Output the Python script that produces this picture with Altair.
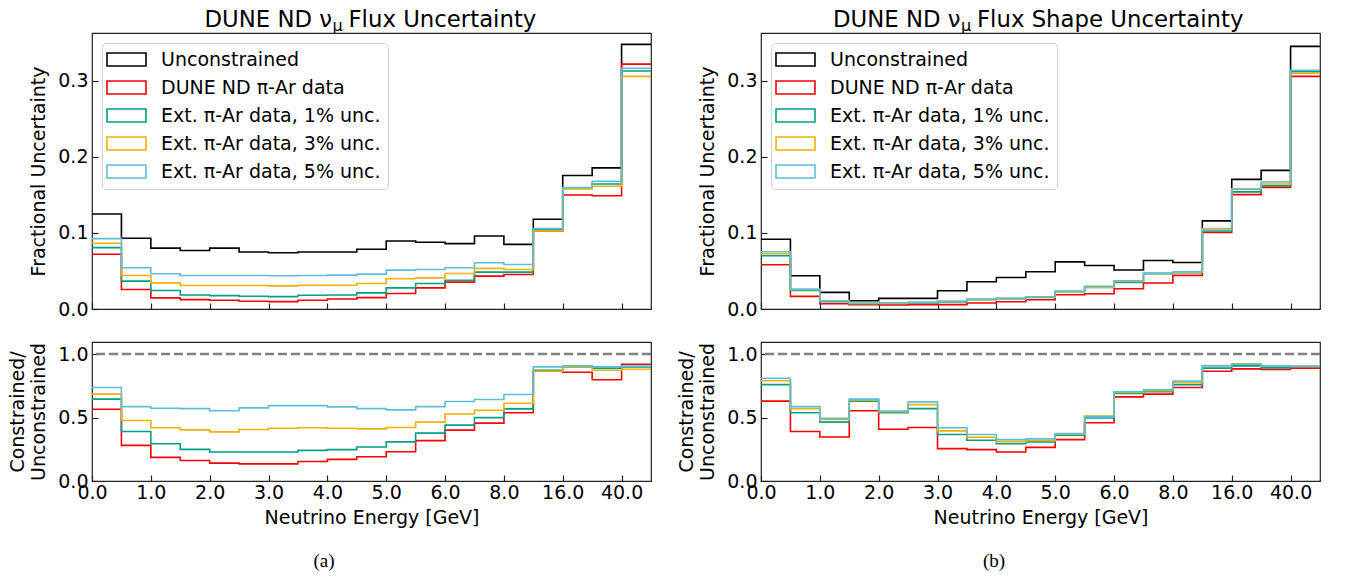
import altair as alt
import pandas as pd

# ---------------- data ----------------
tick_pos = [0, 2, 4, 6, 8, 10, 12, 14, 16, 18]
tick_labels = ["0.0", "1.0", "2.0", "3.0", "4.0", "5.0", "6.0", "8.0", "16.0", "40.0"]

series_names = ["Unconstrained", "DUNE ND π-Ar data", "Ext. π-Ar data, 1% unc.",
                "Ext. π-Ar data, 3% unc.", "Ext. π-Ar data, 5% unc."]
series_colors = ["#000000", "#ff0000", "#00a087", "#f2b000", "#5bbfdc"]

# (a) fractional uncertainty
a_unc = [0.125, 0.093, 0.080, 0.077, 0.080, 0.075, 0.074, 0.075, 0.075, 0.0785,
         0.0895, 0.0877, 0.086, 0.096, 0.085, 0.118, 0.1755, 0.1856, 0.348]
a_dune = [0.072, 0.0256, 0.0146, 0.0123, 0.0115, 0.0101, 0.0097, 0.0115, 0.0132, 0.0150,
          0.0203, 0.0278, 0.0353, 0.0432, 0.0454, 0.1027, 0.150, 0.149, 0.322]
a_ext1 = [0.0807, 0.0366, 0.0243, 0.0185, 0.0176, 0.0168, 0.0163, 0.0181, 0.0185, 0.0212,
          0.0278, 0.0335, 0.0379, 0.0485, 0.0485, 0.105, 0.159, 0.1645, 0.313]
a_ext3 = [0.0864, 0.0441, 0.0344, 0.0309, 0.0309, 0.0309, 0.0304, 0.0313, 0.0313, 0.0335,
          0.0397, 0.041, 0.0467, 0.0534, 0.052, 0.1027, 0.158, 0.1614, 0.306]
a_ext5 = [0.0926, 0.0542, 0.0463, 0.0441, 0.0441, 0.0441, 0.0437, 0.0441, 0.0445, 0.0459,
          0.0511, 0.052, 0.0542, 0.0608, 0.0586, 0.1058, 0.1596, 0.168, 0.3166]

# (a) constrained / unconstrained
a_r_dune = [0.565, 0.281, 0.186, 0.162, 0.141, 0.135, 0.135, 0.154, 0.170, 0.191,
            0.231, 0.318, 0.401, 0.456, 0.538, 0.865, 0.857, 0.798, 0.920]
a_r_ext1 = [0.645, 0.390, 0.294, 0.249, 0.228, 0.228, 0.228, 0.241, 0.247, 0.268,
            0.308, 0.377, 0.440, 0.499, 0.568, 0.873, 0.899, 0.889, 0.899]
a_r_ext3 = [0.684, 0.477, 0.419, 0.403, 0.387, 0.406, 0.416, 0.419, 0.416, 0.411,
            0.422, 0.464, 0.528, 0.557, 0.613, 0.865, 0.899, 0.873, 0.880]
a_r_ext5 = [0.737, 0.586, 0.573, 0.570, 0.554, 0.576, 0.594, 0.594, 0.584, 0.570,
            0.560, 0.586, 0.626, 0.642, 0.682, 0.899, 0.907, 0.899, 0.905]

# (b) fractional shape uncertainty
b_unc = [0.0918, 0.0437, 0.0219, 0.0109, 0.014, 0.014, 0.024, 0.0359, 0.0415, 0.049,
         0.062, 0.0573, 0.0512, 0.0638, 0.0612, 0.1159, 0.1705, 0.1823, 0.3454]
b_dune = [0.0582, 0.0166, 0.007, 0.0057, 0.0052, 0.0057, 0.0057, 0.0079, 0.0096, 0.0122,
          0.0188, 0.0201, 0.0267, 0.0341, 0.0442, 0.1006, 0.1504, 0.160, 0.306]
b_ext1 = [0.070, 0.0245, 0.0096, 0.007, 0.0074, 0.0079, 0.0092, 0.0122, 0.0136, 0.0153,
          0.0227, 0.0284, 0.035, 0.0463, 0.0477, 0.1028, 0.154, 0.162, 0.312]
b_ext3 = [0.0726, 0.0254, 0.0109, 0.0074, 0.0077, 0.0087, 0.010, 0.0127, 0.0136, 0.0157,
          0.0232, 0.0288, 0.0363, 0.0468, 0.0485, 0.1058, 0.158, 0.1644, 0.310]
b_ext5 = [0.0752, 0.0262, 0.0109, 0.0079, 0.0083, 0.0087, 0.010, 0.0131, 0.014, 0.0162,
          0.0236, 0.0297, 0.0372, 0.0472, 0.049, 0.104, 0.1574, 0.167, 0.314]

# (b) constrained / unconstrained
b_r_dune = [0.629, 0.390, 0.347, 0.554, 0.408, 0.422, 0.255, 0.247, 0.228, 0.265,
            0.326, 0.459, 0.663, 0.684, 0.737, 0.865, 0.883, 0.878, 0.889]
b_r_ext1 = [0.759, 0.538, 0.464, 0.629, 0.538, 0.570, 0.366, 0.321, 0.294, 0.308,
            0.361, 0.496, 0.690, 0.703, 0.759, 0.889, 0.907, 0.891, 0.902]
b_r_ext3 = [0.790, 0.570, 0.485, 0.639, 0.546, 0.602, 0.395, 0.345, 0.310, 0.318,
            0.371, 0.512, 0.698, 0.711, 0.777, 0.910, 0.923, 0.905, 0.902]
b_r_ext5 = [0.809, 0.586, 0.493, 0.645, 0.552, 0.623, 0.419, 0.366, 0.326, 0.332,
            0.374, 0.507, 0.703, 0.719, 0.788, 0.907, 0.920, 0.907, 0.905]

# ---------------- helpers ----------------
FONT = "DejaVu Sans"
W, H_TOP, H_BOT = 559, 276, 139
FRAME = "#222222"
color_scale = alt.Scale(domain=series_names, range=series_colors)
label_expr = "[" + ",".join("'%s'" % s for s in tick_labels) + "][round(datum.value/2)]"


def step_df(pairs):
    rows = []
    for name, vals in pairs:
        for i, v in enumerate(vals):
            rows.append({"series": name, "x": i, "y": v})
        rows.append({"series": name, "x": len(vals), "y": vals[-1]})
    return pd.DataFrame(rows)


def x_axis(show_labels):
    common = dict(values=tick_pos, tickSize=6, offset=-6, domain=False, grid=False,
                  tickColor=FRAME, tickWidth=1.2, labelFlush=False, labelOverlap=False)
    if show_labels:
        return alt.Axis(labelExpr=label_expr, title="Neutrino Energy [GeV]",
                        labelFontSize=19, titleFontSize=19, labelFont=FONT, titleFont=FONT,
                        titleFontWeight="normal", labelColor="#000", titleColor="#000",
                        labelPadding=2, titlePadding=6, **common)
    return alt.Axis(labels=False, title=None, **common)


def y_axis(values, title):
    return alt.Axis(values=values, format=".1f", title=title, tickSize=6, offset=-6,
                    domain=False, grid=False, tickColor=FRAME, tickWidth=1.2,
                    labelFontSize=19, titleFontSize=19, labelFont=FONT, titleFont=FONT,
                    titleFontWeight="normal", labelColor="#000", titleColor="#000",
                    labelPadding=4, titlePadding=9, labelFlush=False)


legend_spec = alt.Legend(
    title=None, orient="top-left", offset=10, padding=7,
    symbolType="M-3,-1H3V1H-3Z", symbolSize=169, symbolStrokeWidth=1.6,
    symbolFillColor="transparent", symbolOffset=8,
    labelFontSize=19, labelFont=FONT, labelColor="#000", labelLimit=400, labelOffset=25,
    fillColor="white", strokeColor="#d0d0d0", cornerRadius=4, rowPadding=7,
)


def step_layers(df, ydomain, yvals, ytitle, names, show_xlabels, legend):
    layers = []
    for name in names:
        layers.append(
            alt.Chart(df).transform_filter(alt.datum.series == name)
            .mark_line(interpolate="step-after", strokeWidth=1.6)
            .encode(
                x=alt.X("x:Q", scale=alt.Scale(domain=[0, 19], nice=False, zero=False),
                        axis=x_axis(show_xlabels)),
                y=alt.Y("y:Q", scale=alt.Scale(domain=ydomain, nice=False, zero=False),
                        axis=y_axis(yvals, ytitle)),
                color=alt.Color("series:N", scale=color_scale, legend=legend),
            )
        )
    return layers


def top_panel(pairs, x_mu, rest):
    df = step_df(pairs)
    layers = step_layers(df, [0, 0.363], [0, 0.1, 0.2, 0.3], "Fractional Uncertainty",
                         series_names, False, legend_spec)
    one = pd.DataFrame({"k": [0]})
    t1 = alt.Chart(one).mark_text(text="DUNE ND ν", align="right", baseline="alphabetic",
                                  fontSize=22.8, font=FONT, color="#000").encode(
        x=alt.value(x_mu - 0.5), y=alt.value(-6.5))
    t2 = alt.Chart(one).mark_text(text="μ", align="left", baseline="alphabetic",
                                  fontSize=16, font=FONT, color="#000").encode(
        x=alt.value(x_mu), y=alt.value(-2.5))
    t3 = alt.Chart(one).mark_text(text=rest, align="left", baseline="alphabetic",
                                  fontSize=22.8, font=FONT, color="#000").encode(
        x=alt.value(x_mu + 16), y=alt.value(-6.5))
    return alt.layer(*layers, t1, t2, t3).properties(width=W, height=H_TOP)


def bottom_panel(pairs, caption, cap_x):
    df = step_df(pairs)
    ref = alt.Chart(pd.DataFrame({"v": [1.0]})).mark_rule(
        color="#808080", strokeDash=[9, 4], strokeWidth=2.5).encode(y="v:Q")
    layers = step_layers(df, [0, 1.095], [0, 0.5, 1.0], ["Constrained/", "Unconstrained"],
                         series_names[1:], True, None)
    cap = alt.Chart(pd.DataFrame({"c": [caption]})).mark_text(
        font="Liberation Serif", fontSize=19, color="#000", baseline="middle").encode(
        text="c:N", x=alt.value(cap_x), y=alt.value(219))
    return alt.layer(*layers, ref, cap).properties(width=W, height=H_BOT)


left = alt.vconcat(
    top_panel([(series_names[0], a_unc), (series_names[1], a_dune), (series_names[2], a_ext1),
               (series_names[3], a_ext3), (series_names[4], a_ext5)], 240.5, "Flux Uncertainty"),
    bottom_panel([(series_names[1], a_r_dune), (series_names[2], a_r_ext1),
                  (series_names[3], a_r_ext3), (series_names[4], a_r_ext5)], "(a)", 232),
    spacing=21,
).resolve_scale(color="independent", x="independent", y="independent").resolve_legend(color="independent")

right = alt.vconcat(
    top_panel([(series_names[0], b_unc), (series_names[1], b_dune), (series_names[2], b_ext1),
               (series_names[3], b_ext3), (series_names[4], b_ext5)], 200, "Flux Shape Uncertainty"),
    bottom_panel([(series_names[1], b_r_dune), (series_names[2], b_r_ext1),
                  (series_names[3], b_r_ext3), (series_names[4], b_r_ext5)], "(b)", 233),
    spacing=21,
).resolve_scale(color="independent", x="independent", y="independent").resolve_legend(color="independent")

chart = alt.hconcat(left, right, spacing=22).resolve_scale(
    color="independent", x="independent", y="independent").resolve_legend(color="independent")

chart = chart.properties(padding={"left": 0, "top": -1, "right": 0, "bottom": 0}).configure(
    font=FONT).configure_view(stroke=FRAME, strokeWidth=1.2)

chart.save("out.html", embed_options={"renderer": "svg", "actions": False})
